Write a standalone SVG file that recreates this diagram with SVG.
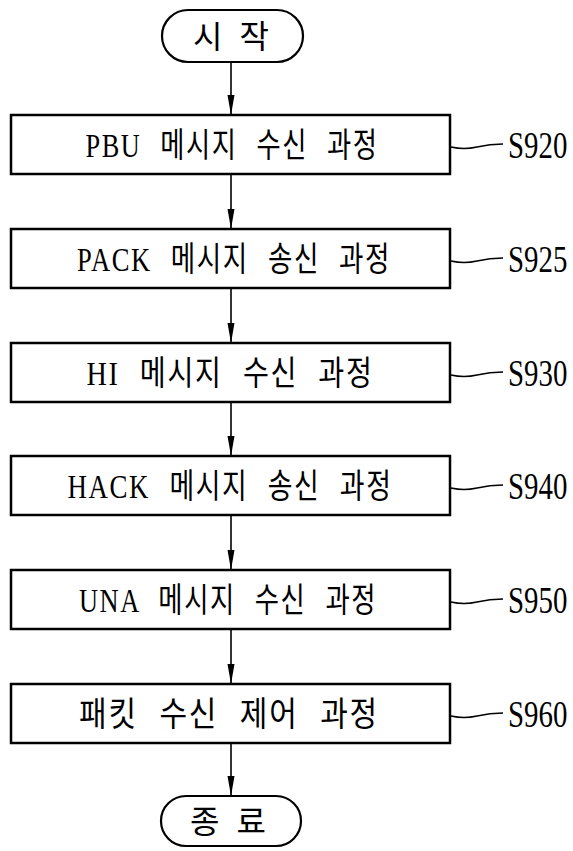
<svg xmlns="http://www.w3.org/2000/svg" width="573" height="851" viewBox="0 0 573 851">
<style>
.box{fill:#fff;stroke:#000;stroke-width:2.5}
.term{fill:#fff;stroke:#000;stroke-width:2.2}
.lbl{font-family:"Liberation Serif","Noto Sans CJK KR",serif;font-size:34px;fill:#000;text-anchor:middle;word-spacing:14px;letter-spacing:2px}
.tt{font-family:"Noto Sans CJK KR",sans-serif;font-size:32px;fill:#000;text-anchor:middle}
.sid{font-family:"Liberation Serif",serif;font-size:38px;fill:#000}
.ln{fill:none;stroke:#000;stroke-width:1.6}
.lead{fill:none;stroke:#000;stroke-width:1.4}
</style>
<defs>
<marker id="ah" markerUnits="userSpaceOnUse" markerWidth="20" markerHeight="8" refX="20" refY="4" orient="auto"><path d="M0,0.5 L20,4 L0,7.5 z" fill="#000"/></marker>
</defs>
<rect width="573" height="851" fill="#fff"/>
<g id="connectors">
<line class="ln" x1="231" y1="62" x2="231" y2="115" marker-end="url(#ah)"/>
<line class="ln" x1="231" y1="174" x2="231" y2="229" marker-end="url(#ah)"/>
<line class="ln" x1="231" y1="288" x2="231" y2="343" marker-end="url(#ah)"/>
<line class="ln" x1="231" y1="402" x2="231" y2="456" marker-end="url(#ah)"/>
<line class="ln" x1="231" y1="515" x2="231" y2="570" marker-end="url(#ah)"/>
<line class="ln" x1="231" y1="629" x2="231" y2="684" marker-end="url(#ah)"/>
<line class="ln" x1="231" y1="743" x2="231" y2="796" marker-end="url(#ah)"/>
<path class="lead" d="M451,147 q13,3 26,0 t26,-3"/>
<path class="lead" d="M451,261 q13,3 26,0 t26,-3"/>
<path class="lead" d="M451,375 q13,3 26,0 t26,-3"/>
<path class="lead" d="M451,488 q13,3 26,0 t26,-3"/>
<path class="lead" d="M451,602 q13,3 26,0 t26,-3"/>
<path class="lead" d="M451,716 q13,3 26,0 t26,-3"/>
</g>
<g id="start">
<rect class="term" x="162" y="10" width="141" height="52" rx="26" ry="26"/>
<text class="tt" x="231" y="48" textLength="76" lengthAdjust="spacing">시 작</text>
</g>
<g id="s920">
<rect class="box" x="11" y="115" width="439" height="59"/>
<text class="lbl" x="232" y="157" textLength="293" lengthAdjust="spacingAndGlyphs">PBU 메시지 수신 과정</text>
<text class="sid" transform="matrix(0.76 0 0 1 508 158)">S920</text>
</g>
<g id="s925">
<rect class="box" x="11" y="229" width="439" height="59"/>
<text class="lbl" x="234" y="271" textLength="314" lengthAdjust="spacingAndGlyphs">PACK 메시지 송신 과정</text>
<text class="sid" transform="matrix(0.76 0 0 1 508 272)">S925</text>
</g>
<g id="s930">
<rect class="box" x="11" y="343" width="439" height="59"/>
<text class="lbl" x="230" y="385" textLength="287" lengthAdjust="spacingAndGlyphs">HI 메시지 수신 과정</text>
<text class="sid" transform="matrix(0.76 0 0 1 508 386)">S930</text>
</g>
<g id="s940">
<rect class="box" x="11" y="456" width="439" height="59"/>
<text class="lbl" x="230" y="498" textLength="325" lengthAdjust="spacingAndGlyphs">HACK 메시지 송신 과정</text>
<text class="sid" transform="matrix(0.76 0 0 1 508 499)">S940</text>
</g>
<g id="s950">
<rect class="box" x="11" y="570" width="439" height="59"/>
<text class="lbl" x="228" y="612" textLength="298" lengthAdjust="spacingAndGlyphs">UNA 메시지 수신 과정</text>
<text class="sid" transform="matrix(0.76 0 0 1 508 613)">S950</text>
</g>
<g id="s960">
<rect class="box" x="11" y="684" width="439" height="59"/>
<text class="lbl" x="229" y="726" textLength="300" lengthAdjust="spacingAndGlyphs">패킷 수신 제어 과정</text>
<text class="sid" transform="matrix(0.76 0 0 1 508 727)">S960</text>
</g>
<g id="end">
<rect class="term" x="161" y="796" width="140" height="50" rx="25" ry="25"/>
<text class="tt" x="228" y="833" textLength="76" lengthAdjust="spacing">종 료</text>
</g>
</svg>
